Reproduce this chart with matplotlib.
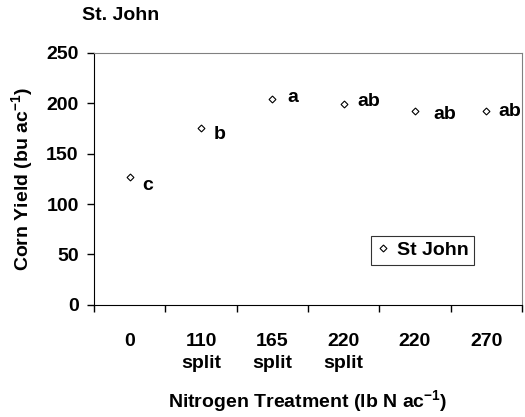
import matplotlib
matplotlib.use("Agg")
import matplotlib.pyplot as plt

# ── Data ──────────────────────────────────────────────────────────────────────
treatments = ["0", "110\nsplit", "165\nsplit", "220\nsplit", "220", "270"]
yield_bu = [127, 176, 204, 199, 192, 192]
letters = ["c", "b", "a", "ab", "ab", "ab"]
y_ticks = [0, 50, 100, 150, 200, 250]

plt.rcParams["font.family"] = ["Liberation Sans", "DejaVu Sans"]
plt.rcParams["font.weight"] = "bold"
plt.rcParams["mathtext.default"] = "bf"
plt.rcParams["mathtext.fontset"] = "custom"
plt.rcParams["mathtext.bf"] = "Liberation Sans:bold"
plt.rcParams["mathtext.rm"] = "Liberation Sans:bold"

FS = 14

fig = plt.figure(figsize=(5.25, 4.17), dpi=100)
ax = fig.add_axes([0.179, 0.269, 0.815, 0.604])

x = list(range(len(treatments)))
ax.plot(x, yield_bu, linestyle="none", marker="D", markersize=3.5,
        markerfacecolor="white", markeredgecolor="black", markeredgewidth=0.8,
        label="St John", clip_on=False)

# letter offsets in points (dx, dy)
offsets = [(9, -6), (9, -5), (11, 1), (10, 2), (13, -2), (9, 0)]
for xi, yi, lab, (dx, dy) in zip(x, yield_bu, letters, offsets):
    ax.annotate(lab, xy=(xi, yi), xytext=(dx, dy), textcoords="offset points",
                ha="left", va="center", fontsize=FS, fontweight="bold")

ax.set_xlim(-0.5, len(treatments) - 0.5)
ax.set_ylim(0, 250)
ax.set_yticks(y_ticks)
ax.set_xticks([i - 0.5 for i in range(len(treatments) + 1)])
ax.set_xticklabels([])
ax.set_xticks(x, minor=True)
ax.set_xticklabels(treatments, minor=True, fontsize=FS, fontweight="bold",
                   linespacing=1.45)
ax.tick_params(axis="x", which="minor", length=0, pad=20)
ax.tick_params(axis="x", which="major", direction="out", length=5, width=1)
ax.tick_params(axis="y", direction="out", length=5, width=1, labelsize=FS, pad=6)
for t in ax.get_yticklabels():
    t.set_fontweight("bold")

ax.spines["left"].set_color("black")
ax.spines["bottom"].set_color("black")
ax.spines["top"].set_color("#808080")
ax.spines["right"].set_color("#808080")

ax.set_ylabel("Corn Yield (bu ac$^{-1}$)", fontsize=FS, fontweight="bold",
              labelpad=8)
ax.set_xlabel("Nitrogen Treatment (lb N ac$^{-1}$)", fontsize=FS,
              fontweight="bold", labelpad=11)
fig.text(0.156, 0.962, "St. John", fontsize=FS, fontweight="bold",
         ha="left", va="center")

leg = ax.legend(loc="lower left", bbox_to_anchor=(0.648, 0.158), frameon=True,
                fancybox=False, edgecolor="black", fontsize=FS,
                handlelength=0.6, handletextpad=0.4, borderpad=0.3,
                borderaxespad=0)
leg.get_frame().set_linewidth(0.8)

fig.savefig("out.png", dpi=100)
